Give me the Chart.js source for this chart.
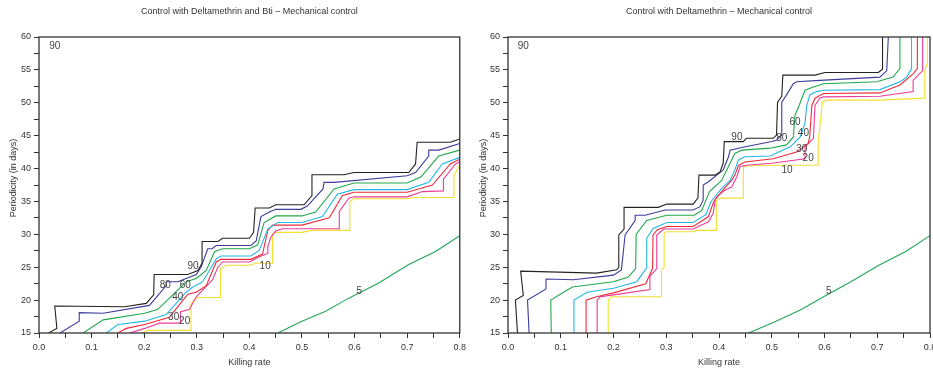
<!DOCTYPE html>
<html>
<head>
<meta charset="utf-8">
<script src="https://cdn.jsdelivr.net/npm/chart.js@4.4.1/dist/chart.umd.min.js"></script>
<style>
   html, body { margin: 0; padding: 0; background: #fff; width: 933px; height: 373px; overflow: hidden; }
   #boxL { position: absolute; left: 0; top: 0; }
   #boxR { position: absolute; left: 470px; top: 0; }
</style>
</head>
<body>
<div id="boxL"><canvas id="graficoL" width="470" height="373"></canvas></div>
<div id="boxR"><canvas id="graficoR" width="493" height="373"></canvas></div>
<script>
// Niveis das curvas e cores
const levels = ["90", "80", "60", "40", "30", "20", "10", "5"];
const colors = ["#222222", "#3c3c9c", "#22a84e", "#22b8e8", "#ee2a3c", "#ec3c98", "#f2e030", "#22a65a"];

const xTickLabels = [0.0, 0.1, 0.2, 0.3, 0.4, 0.5, 0.6, 0.7, 0.8];
const yTickLabels = [15, 20, 25, 30, 35, 40, 45, 50, 55, 60];

// Painel esquerdo: Deltamethrin e Bti
const left90 = [[0.018,15],[0.034,15.7],[0.030,19.1],[0.163,19.0],[0.204,19.5],[0.218,20.8],[0.219,23.9],[0.283,23.9],[0.302,24.5],[0.310,25.6],[0.310,28.9],[0.340,28.9],[0.349,29.4],[0.400,29.4],[0.408,30.3],[0.411,34.0],[0.438,34.0],[0.450,34.5],[0.504,34.5],[0.519,35.9],[0.519,39.05],[0.580,39.05],[0.599,39.4],[0.703,39.4],[0.716,40.7],[0.719,44.0],[0.782,44.0],[0.8,44.5]];
const left80 = [[0.040,15],[0.0765,16.8],[0.0765,18.1],[0.122,18.0],[0.21,19.2],[0.242,22.2],[0.242,22.8],[0.264,22.8],[0.299,23.9],[0.308,25.0],[0.321,27.8],[0.329,27.8],[0.337,28.3],[0.403,28.3],[0.413,29.0],[0.422,32.7],[0.438,33.4],[0.45,33.8],[0.498,33.8],[0.51,34.3],[0.54,36.9],[0.542,37.9],[0.561,37.9],[0.70,38.9],[0.716,39.4],[0.741,41.9],[0.741,42.8],[0.76,42.8],[0.8,43.8]];
const left60 = [[0.084,15],[0.122,17.0],[0.201,18.0],[0.226,18.6],[0.28,22.8],[0.299,23.3],[0.318,24.5],[0.334,27.4],[0.349,27.8],[0.40,27.8],[0.416,28.4],[0.428,31.8],[0.45,32.8],[0.50,32.8],[0.526,33.4],[0.561,36.9],[0.599,37.8],[0.70,37.8],[0.726,38.7],[0.76,41.9],[0.8,42.8]];
const left40 = [[0.128,15],[0.150,16.3],[0.201,16.8],[0.242,17.8],[0.277,21.0],[0.289,21.8],[0.311,22.8],[0.324,24.5],[0.337,26.3],[0.346,26.7],[0.403,26.7],[0.419,27.6],[0.435,30.8],[0.454,31.8],[0.50,31.8],[0.539,32.7],[0.567,36.1],[0.599,36.8],[0.70,36.8],[0.741,37.9],[0.767,40.7],[0.8,41.7]];
const left30 = [[0.150,15],[0.166,15.7],[0.201,16.3],[0.248,17.4],[0.283,20.9],[0.299,21.2],[0.318,22.2],[0.337,25.8],[0.346,26.2],[0.403,26.2],[0.425,27.0],[0.435,30.6],[0.444,31.4],[0.50,31.4],[0.552,32.5],[0.577,35.9],[0.599,36.4],[0.70,36.4],[0.748,37.5],[0.782,40.7],[0.8,41.4]];
const left20 = [[0.172,15],[0.201,15.7],[0.229,16.5],[0.269,16.5],[0.269,18.2],[0.286,18.6],[0.299,20.5],[0.312,21.6],[0.33,23.1],[0.340,25.0],[0.349,25.8],[0.40,25.8],[0.419,26.6],[0.435,27.1],[0.435,28.1],[0.441,29.6],[0.45,30.5],[0.463,30.85],[0.571,30.85],[0.571,33.5],[0.589,35.5],[0.599,35.7],[0.70,35.7],[0.729,36.5],[0.769,36.6],[0.769,38.4],[0.792,40.7],[0.8,41.0]];
const left10 = [[0.195,15],[0.207,15.4],[0.289,15.4],[0.289,19.5],[0.302,20.4],[0.345,20.4],[0.345,24.8],[0.356,25.3],[0.40,25.3],[0.413,25.6],[0.444,25.6],[0.444,30.0],[0.45,30.3],[0.50,30.3],[0.52,30.6],[0.591,30.6],[0.591,35.0],[0.599,35.4],[0.70,35.4],[0.713,35.6],[0.789,35.6],[0.789,39.0],[0.8,40.5]];
const left5 = [[0.454,15],[0.50,16.8],[0.545,18.3],[0.589,20.3],[0.646,22.6],[0.703,25.4],[0.754,27.4],[0.8,29.8]];

const leftLabels = ["90", "90", "80", "60", "40", "30", "20", "10", "5"];
const leftLabelPos = [[0.03,58.6],[0.293,25.2],[0.24,22.3],[0.278,22.3],[0.264,20.5],[0.256,17.4],[0.277,16.8],[0.43,25.1],[0.609,21.3]];

// Painel direito: Deltamethrin
const right90 = [[0.018,15],[0.014,20.0],[0.029,20.7],[0.024,24.4],[0.168,24.1],[0.206,24.6],[0.210,25.0],[0.210,29.9],[0.220,30.8],[0.220,34.1],[0.285,34.1],[0.301,34.6],[0.351,34.6],[0.36,35.5],[0.362,39.0],[0.392,39.0],[0.402,39.5],[0.408,40.8],[0.41,44.1],[0.446,44.1],[0.452,44.6],[0.503,44.6],[0.509,45.1],[0.511,50.1],[0.519,51.0],[0.521,54.2],[0.582,54.2],[0.601,54.6],[0.702,54.6],[0.710,55.1],[0.710,60]];
const right80 = [[0.040,15],[0.037,20.0],[0.072,21.7],[0.072,23.2],[0.124,23.1],[0.20,23.8],[0.215,24.6],[0.222,29.9],[0.241,32.1],[0.241,32.9],[0.26,32.9],[0.298,33.7],[0.351,33.7],[0.364,34.2],[0.370,35.2],[0.370,37.5],[0.38,38.0],[0.408,39.8],[0.418,41.8],[0.421,42.8],[0.443,43.2],[0.50,44.1],[0.509,44.3],[0.519,45.1],[0.519,50.1],[0.528,51.2],[0.541,52.9],[0.547,53.2],[0.591,53.4],[0.705,53.9],[0.718,54.9],[0.721,60]];
const right60 = [[0.082,15],[0.081,20],[0.122,22.0],[0.20,22.8],[0.228,23.5],[0.242,24.8],[0.243,30.0],[0.263,32.1],[0.301,32.9],[0.353,32.9],[0.367,33.6],[0.382,36.5],[0.405,38.2],[0.421,40.8],[0.43,42.3],[0.443,42.8],[0.497,43.1],[0.528,43.6],[0.541,44.8],[0.544,48.1],[0.551,49.4],[0.563,51.9],[0.579,52.4],[0.598,52.9],[0.699,53.2],[0.73,53.9],[0.743,55.2],[0.743,60]];
const right40 = [[0.125,15],[0.125,20],[0.15,21.2],[0.20,21.8],[0.244,22.8],[0.263,24.9],[0.263,29.4],[0.275,30.9],[0.301,31.8],[0.351,31.8],[0.375,33.0],[0.385,35.0],[0.405,37.0],[0.421,38.2],[0.43,39.8],[0.437,41.3],[0.449,41.8],[0.497,41.9],[0.535,43.3],[0.554,44.8],[0.563,46.9],[0.566,49.4],[0.572,51.2],[0.585,51.7],[0.598,51.9],[0.705,52.0],[0.743,53.2],[0.756,53.9],[0.765,55.2],[0.765,60]];
const right30 = [[0.148,15],[0.148,20],[0.168,20.5],[0.20,21.1],[0.261,22.5],[0.274,24.8],[0.275,29.9],[0.283,30.7],[0.301,31.2],[0.351,31.2],[0.38,32.7],[0.39,35.0],[0.41,37.0],[0.424,38.2],[0.43,39.0],[0.437,40.5],[0.449,41.0],[0.503,41.5],[0.547,42.5],[0.569,43.8],[0.572,44.8],[0.576,49.6],[0.582,50.7],[0.598,51.4],[0.705,51.5],[0.743,52.7],[0.768,54.4],[0.776,55.2],[0.776,60]];
const right20 = [[0.169,15],[0.169,20],[0.175,20.5],[0.20,20.8],[0.269,21.6],[0.269,23.6],[0.282,24.8],[0.282,29.9],[0.295,30.8],[0.351,30.8],[0.38,31.9],[0.389,33.2],[0.393,35.3],[0.397,35.8],[0.411,36.7],[0.424,37.2],[0.434,38.8],[0.44,40.3],[0.452,40.5],[0.50,40.8],[0.563,41.5],[0.563,43.3],[0.579,44.6],[0.582,49.6],[0.591,50.7],[0.598,50.9],[0.705,51.0],[0.768,51.7],[0.768,53.4],[0.786,54.9],[0.786,60]];
const right10 = [[0.19,15],[0.19,20],[0.196,20.5],[0.291,20.5],[0.291,24.6],[0.296,25.0],[0.296,30.2],[0.301,30.4],[0.351,30.4],[0.357,30.6],[0.395,30.6],[0.395,35.0],[0.402,35.5],[0.446,35.5],[0.446,40.3],[0.452,40.4],[0.503,40.5],[0.588,40.5],[0.588,43.8],[0.596,50.1],[0.604,50.4],[0.705,50.4],[0.79,50.7],[0.79,54.9],[0.795,56.0],[0.795,60]];
const right5 = [[0.456,15],[0.503,16.6],[0.554,18.5],[0.600,20.6],[0.650,22.8],[0.703,25.3],[0.754,27.4],[0.8,29.8]];

const rightLabels = ["90", "90", "80", "60", "40", "30", "20", "10", "5"];
const rightLabelPos = [[0.029,58.6],[0.434,44.8],[0.519,44.6],[0.544,47.0],[0.56,45.4],[0.557,42.9],[0.569,41.6],[0.529,39.7],[0.608,21.3]];

Chart.defaults.font.family = '"Liberation Sans", Arial, sans-serif';
Chart.defaults.color = '#333';

// Plugin: moldura, titulos e rotulos das curvas
const extras = {
   id: 'extras',
   afterDatasetsDraw(chart, args, opts) {
      const ctx = chart.ctx;
      const a = chart.chartArea;
      const x = chart.scales.x;
      const y = chart.scales.y;
      ctx.save();
      ctx.strokeStyle = '#333';
      ctx.lineWidth = 1.3;
      ctx.strokeRect(a.left, a.top, a.right - a.left, a.bottom - a.top);
      ctx.fillStyle = '#333';
      ctx.font = '9px "Liberation Sans", Arial, sans-serif';
      ctx.textAlign = 'center';
      ctx.textBaseline = 'middle';
      ctx.fillText(opts.title, (a.left + a.right) / 2, 12);
      ctx.fillText('Killing rate', (a.left + a.right) / 2, 363);
      ctx.translate(14, 178);
      ctx.rotate(-Math.PI / 2);
      ctx.fillText('Periodicity (in days)', 0, 0);
      ctx.restore();

      ctx.save();
      ctx.fillStyle = '#444';
      ctx.font = '10px "Liberation Sans", Arial, sans-serif';
      ctx.textAlign = 'center';
      ctx.textBaseline = 'middle';
      opts.labels.forEach((t, i) => {
         ctx.fillText(t, x.getPixelForValue(opts.pos[i][0]), y.getPixelForValue(opts.pos[i][1]));
      });
      ctx.restore();
   }
};

function makeChart(id, curves, title, labels, pos, yWidth, padRight) {
   const datasets = curves.map((c, i) => ({
      label: levels[i],
      data: c.map(p => ({ x: p[0], y: p[1] })),
      showLine: true,
      borderColor: colors[i],
      borderWidth: 1.1,
      pointRadius: 0,
      tension: 0
   }));
   return new Chart(document.getElementById(id).getContext('2d'), {
      type: 'scatter',
      data: { datasets },
      options: {
         responsive: false,
         animation: false,
         layout: { autoPadding: false, padding: { left: 0, right: padRight, top: 37, bottom: 0 } },
         plugins: {
            legend: { display: false },
            tooltip: { enabled: false },
            extras: { title, labels, pos }
         },
         scales: {
            x: {
               type: 'linear', min: 0, max: 0.8,
               afterFit: s => { s.height = 40; },
               border: { display: false },
               grid: { drawOnChartArea: false, drawTicks: true, tickLength: 5, tickColor: '#333', tickWidth: 1 },
               ticks: {
                  stepSize: 0.05, autoSkip: false, maxRotation: 0, padding: 4,
                  font: { size: 9 }, color: '#333',
                  callback: v => {
                     const k = Math.round(v * 100);
                     return xTickLabels.some(t => Math.round(t * 100) === k) ? (k / 100).toFixed(1) : '';
                  }
               }
            },
            y: {
               type: 'linear', min: 15, max: 60,
               afterFit: s => { s.width = yWidth; },
               border: { display: false },
               grid: { drawOnChartArea: false, drawTicks: true, tickLength: 5, tickColor: '#333', tickWidth: 1 },
               ticks: {
                  stepSize: 2.5, autoSkip: false, padding: 3,
                  font: { size: 9 }, color: '#333',
                  callback: v => yTickLabels.includes(v) ? String(v) : ''
               }
            }
         }
      },
      plugins: [extras]
   });
}

const chartL = makeChart('graficoL', [left90, left80, left60, left40, left30, left20, left10, left5],
   'Control with Deltamethrin and Bti \u2013 Mechanical control', leftLabels, leftLabelPos, 39, 9);
const chartR = makeChart('graficoR', [right90, right80, right60, right40, right30, right20, right10, right5],
   'Control with Deltamethrin \u2013 Mechanical control', rightLabels, rightLabelPos, 38, 33);
</script>
</body>
</html>
